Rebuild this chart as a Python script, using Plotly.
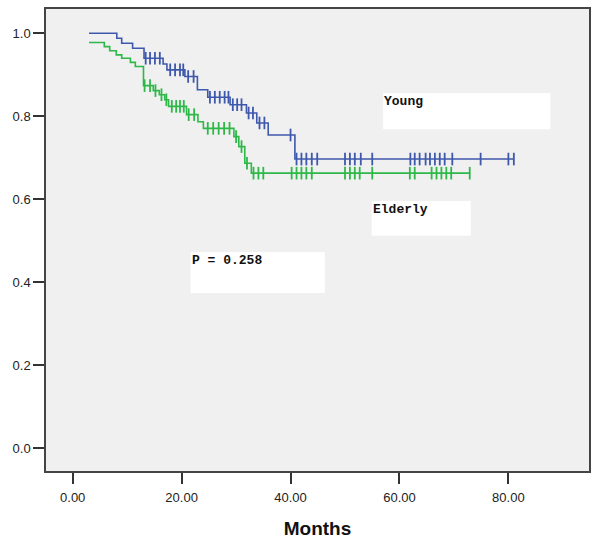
import numpy as np
import plotly.graph_objects as go

# ---- data ----
young_end = 81.0
young_event_times = [3.0, 8.1, 9.0, 11.0, 13.1, 16.6, 17.3, 20.6, 22.9, 24.8, 28.9, 31.9, 33.8, 35.9, 40.8]
young_surv = [1.0, 0.988, 0.976, 0.964, 0.940, 0.926, 0.912, 0.896, 0.864, 0.846, 0.828, 0.808, 0.784, 0.755, 0.697]
young_censored = [13.4, 14.2, 15.1, 16.0, 17.9, 18.8, 19.7, 20.3, 21.2, 22.2,
                  25.2, 26.1, 27.0, 27.9, 28.6, 29.4, 30.2, 31.0, 32.3, 33.1, 34.3, 35.2, 40.0,
                  41.1, 42.0, 42.9, 43.9, 44.9, 50.0, 50.9, 51.8, 52.9, 55.0,
                  62.0, 62.8, 63.7, 64.8, 65.6, 66.5, 67.4, 68.3, 69.7, 74.9, 80.0, 81.0]

elderly_end = 72.9
elderly_event_times = [3.0, 5.8, 6.8, 8.0, 9.0, 10.6, 11.5, 13.0, 14.8, 15.9, 16.9, 17.6, 20.9, 23.0, 24.0, 29.6, 30.5, 31.6, 32.8]
elderly_surv = [0.978, 0.968, 0.958, 0.948, 0.940, 0.930, 0.920, 0.874, 0.862, 0.852, 0.840, 0.824, 0.804, 0.787, 0.771, 0.751, 0.727, 0.687, 0.663]
elderly_censored = [13.2, 14.2, 15.2, 16.3, 17.2, 18.2, 19.0, 19.7, 20.4, 21.3, 22.3,
                    24.8, 25.8, 26.8, 27.8, 28.8, 30.0, 31.0, 32.0, 33.2, 34.1, 35.0,
                    40.2, 41.1, 42.0, 42.9, 43.9, 50.0, 50.9, 51.8, 52.7, 55.0,
                    61.9, 62.8, 65.9, 66.8, 67.7, 68.6, 69.5, 72.9]

x_ticks = [0, 20, 40, 60, 80]
x_tick_labels = ["0.00", "20.00", "40.00", "60.00", "80.00"]
y_ticks = [0.0, 0.2, 0.4, 0.6, 0.8, 1.0]
y_tick_labels = ["0.0", "0.2", "0.4", "0.6", "0.8", "1.0"]

BLUE = "#3E58AC"
GREEN = "#2EB848"


def step_value(times, surv, t):
    idx = np.searchsorted(np.array(times), np.array(t), side="right") - 1
    idx = np.clip(idx, 0, len(surv) - 1)
    return np.array(surv)[idx]


fig = go.Figure()

for times, surv, end, cens, col, name in [
    (young_event_times, young_surv, young_end, young_censored, BLUE, "Young"),
    (elderly_event_times, elderly_surv, elderly_end, elderly_censored, GREEN, "Elderly"),
]:
    xs = list(times) + [end]
    ys = list(surv) + [surv[-1]]
    fig.add_trace(go.Scatter(x=xs, y=ys, mode="lines", line=dict(shape="hv", color=col, width=1.6),
                             showlegend=False, name=name, hoverinfo="skip"))
    fig.add_trace(go.Scatter(x=cens, y=step_value(times, surv, cens), mode="markers",
                             marker=dict(symbol="line-ns", size=9, line=dict(color=col, width=1.8)),
                             showlegend=False, name=name + " censored"))

# text boxes
boxes = [
    dict(x0=57.0, x1=87.7, y0=0.769, y1=0.856, text="Young"),
    dict(x0=54.9, x1=73.1, y0=0.512, y1=0.596, text="Elderly"),
    dict(x0=21.65, x1=46.3, y0=0.374, y1=0.473, text="P = 0.258"),
]
for b in boxes:
    fig.add_shape(type="rect", xref="x", yref="y", x0=b["x0"], x1=b["x1"], y0=b["y0"], y1=b["y1"],
                  fillcolor="white", line=dict(width=0), layer="below")
    fig.add_annotation(x=b["x0"], y=b["y1"], xref="x", yref="y", text="<b>" + b["text"] + "</b>",
                       showarrow=False, xanchor="left", yanchor="top", borderpad=0, yshift=0,
                       font=dict(family="Liberation Mono", size=13, color="#111111"))

fig.update_layout(
    width=600, height=539,
    margin=dict(l=46, r=11, t=9, b=68),
    paper_bgcolor="white",
    plot_bgcolor="#F0F0F0",
    font=dict(family="Liberation Sans", size=13, color="#222222"),
    showlegend=False,
)
fig.update_xaxes(range=[-4.9, 94.8], tickvals=x_ticks, ticktext=x_tick_labels, automargin=False,
                 ticks="outside", ticklen=11, tickwidth=2, tickcolor="#333333",
                 showgrid=False, zeroline=False, showline=True, linecolor="#444444", linewidth=1.5, mirror=True,
                 tickfont=dict(size=13, color="#222222"), ticklabelstandoff=3,
                 title=dict(text="<b>Months</b>", font=dict(size=19, color="#111111"), standoff=17))
fig.update_yaxes(range=[-0.0547, 1.0586], tickvals=y_ticks, ticktext=y_tick_labels, automargin=False,
                 ticks="outside", ticklen=11, tickwidth=2, tickcolor="#333333",
                 showgrid=False, zeroline=False, showline=True, linecolor="#444444", linewidth=1.5, mirror=True,
                 tickfont=dict(size=13, color="#222222"))

fig.write_html("out.html", config={"displayModeBar": False},
               post_script="document.body.style.margin='0';document.body.style.overflow='hidden';")
